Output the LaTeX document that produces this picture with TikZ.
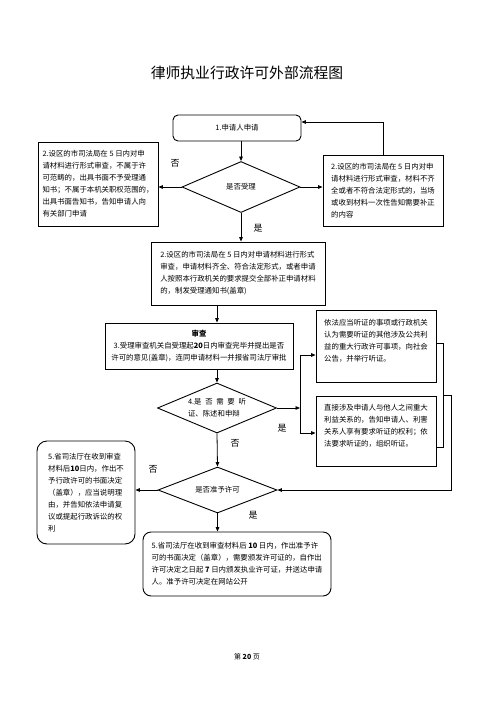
\documentclass[tikz,border=0pt]{standalone}
\usepackage{fontspec}
\setmainfont{Noto Sans CJK SC}
\usetikzlibrary{shapes.geometric,arrows.meta}
\begin{document}
\begin{tikzpicture}[x=1pt,y=-1pt,
  every node/.style={font=\fontsize{7.4}{12}\selectfont, inner sep=0pt},
  box/.style={draw, line width=0.9pt, align=left},
  rbox/.style={box, rounded corners=7pt},
  dia/.style={draw, line width=0.9pt, diamond, aspect=2.4, align=left},
  arr/.style={line width=0.8pt, -{Triangle[length=4.5pt,width=3.6pt]}},
  ln/.style={line width=0.8pt},
  lab/.style={font=\fontsize{9}{10}\selectfont}]
\useasboundingbox (0,0) rectangle (496,702);

% title
\node[font=\fontsize{14.8}{16}\selectfont] (title) at (247,73) {律师执业行政许可外部流程图};

% step 1
\node[rbox, rounded corners=5pt, minimum width=128pt, minimum height=26pt] (s1) at (237,128) {1.申请人申请};
\node[dia, minimum width=118pt, minimum height=51pt] (d1) at (241,187) {是否受理};

\node[box, minimum width=120pt, minimum height=84pt] (L) at (98,184) {2.设区的市司法局在 5 日内对申\\请材料进行形式审查，不属于许\\可范畴的，出具书面不予受理通\\知书；不属于本机关职权范围的，\\出具书面告知书，告知申请人向\\有关部门申请};

\node[box, minimum width=120pt, minimum height=71pt] (R) at (383,190.5) {2.设区的市司法局在 5 日内对申\\请材料进行形式审查，材料不齐\\全或者不符合法定形式的，当场\\或收到材料一次性告知需要补正\\的内容};

\node[box, minimum width=174pt, minimum height=63pt] (b2) at (238,273.5) {2.设区的市司法局在 5 日内对申请材料进行形式\\审查，申请材料齐全、符合法定形式，或者申请\\人按照本行政机关的要求提交全部补正申请材料\\的，制发受理通知书(盖章)};

\node[box, align=center, minimum width=188pt, minimum height=46pt] (b3) at (199,346) {\textbf{审查}\\3.受理审查机关自受理起\textbf{20}日内审查完毕并提出是否\\许可的意见(盖章)，连同申请材料一并报省司法厅审批};

\node[dia, minimum width=119pt, minimum height=50pt] (d4) at (217,408) {\makebox[58pt][s]{4.是\hfill 否\hfill 需\hfill 要\hfill 听}\\证、陈述和申辩};

\node[box, minimum width=120pt, minimum height=72pt] (A) at (376,346) {依法应当听证的事项或行政机关\\认为需要听证的其他涉及公共利\\益的重大行政许可事项，向社会\\公告，并举行听证。\\\mbox{}};

\node[box, minimum width=120pt, minimum height=70pt] (B) at (376,431) {直接涉及申请人与他人之间重大\\利益关系的，告知申请人、利害\\关系人享有要求听证的权利；依\\法要求听证的，组织听证。\\\mbox{}};

\node[dia, minimum width=119pt, minimum height=46pt] (d5) at (217.5,490) {是否准予许可};

\node[rbox, rounded corners=10pt, minimum width=98pt, minimum height=103pt] (L5) at (86,492.5) {5.省司法厅在收到审查\\材料后\textbf{10}日内，作出不\\予行政许可的书面决定\\（盖章），应当说明理\\由，并告知依法申请复\\议或提起行政诉讼的权\\利};

\node[rbox, rounded corners=8pt, minimum width=188pt, minimum height=64pt] (F) at (237,564) {5.省司法厅在收到审查材料后 \textbf{10} 日内，作出准予许\\可的书面决定（盖章），需要颁发许可证的，自作出\\许可决定之日起 \textbf{7} 日内颁发执业许可证，并送达申请\\人。准予许可决定在网站公开};

% labels
\node[lab] (n1) at (175,163) {否};
\node[lab] (y1) at (258,228) {是};
\node[lab] (y4) at (282,428) {是};
\node[lab] (n4) at (235,443) {否};
\node[lab] (n5) at (153,469) {否};
\node[lab] (y5) at (253,515) {是};

\node[font=\fontsize{7}{8}\selectfont] (foot) at (247,657) {第 \textbf{20} 页};

% connectors
\draw[arr] (d1.north |- s1.south) -- (d1.north);
\draw[arr] (d1.west) -- (d1.west -| L.east);
\draw[arr] (d1.east) -- (d1.east -| R.west);
\draw[arr] (R.north) |- ([yshift=6pt]s1.east);
\draw[arr] (d1.south) -- (d1.south |- b2.north);
\draw[arr] (d4.north |- b2.south) -- (d4.north |- b3.north);
\draw[arr] (d4.north |- b3.south) -- (d4.north);

\coordinate (j1) at (300,408);
\coordinate (ja) at (300,355);
\coordinate (jb) at (300,433);
\draw[arr] (d4.east) -- (j1);
\draw[ln] (ja) -- (jb);
\draw[arr] (ja) -- (ja -| A.west);
\draw[arr] (jb) -- (jb -| B.west);

\coordinate (k1) at (443,343);
\coordinate (k2) at (443,447);
\coordinate (k) at (443,395);
\coordinate (m) at (451,395);
\draw[ln] (A.east |- k1) -- (k1) -- (k2) -- (B.east |- k2);
\draw[arr] (k) -- (m) |- (d5.east);

\draw[arr] (d4.south) -- (d5.north);
\draw[arr] (d5.west) -- (d5.west -| L5.east);
\draw[arr] (d5.south) -- (d5.south |- F.north);
\end{tikzpicture}
\end{document}
